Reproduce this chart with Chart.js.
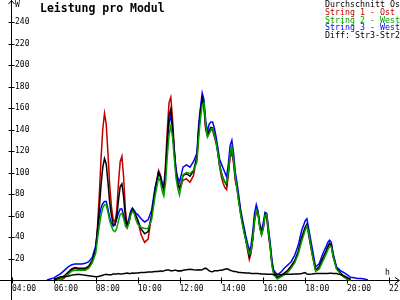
<!DOCTYPE html>
<html><head><meta charset="utf-8">
<script src="https://cdn.jsdelivr.net/npm/chart.js@4"></script>
<style>html,body{margin:0;padding:0;background:#fff;overflow:hidden}canvas{display:block}</style>
</head><body>
<canvas id="c" width="400" height="300"></canvas>
<script>
const title = 'Leistung pro Modul';
const times = [
'05:30','05:40','05:50','06:00','06:10','06:20','06:30','06:40','06:50','07:00',
'07:10','07:20','07:30','07:40','07:50','08:00','08:05','08:10','08:15','08:20',
'08:25','08:30','08:35','08:40','08:45','08:50','08:55','09:00','09:05','09:10',
'09:15','09:20','09:25','09:30','09:35','09:40','09:45','09:50','09:55','10:00',
'10:10','10:20','10:30','10:40','10:50','11:00','11:05','11:10','11:15','11:20',
'11:25','11:30','11:35','11:40','11:45','11:50','11:55','12:00','12:05','12:10',
'12:20','12:30','12:40','12:50','12:55','13:00','13:05','13:10','13:15','13:20',
'13:25','13:30','13:35','13:40','13:45','13:50','13:55','14:00','14:05','14:10',
'14:15','14:20','14:25','14:30','14:35','14:40','14:45','14:50','14:55','15:00',
'15:05','15:10','15:15','15:20','15:25','15:30','15:35','15:40','15:45','15:50',
'15:55','16:00','16:05','16:10','16:15','16:20','16:25','16:30','16:40','16:50',
'17:00','17:10','17:20','17:30','17:40','17:50','18:00','18:05','18:10','18:20',
'18:30','18:40','18:50','19:00','19:05','19:10','19:15','19:20','19:30','19:40',
'19:50','20:00','20:10','20:20','20:30','20:40','20:50','21:00'];

const durchschnitt = [
null,null,null,0,1,2,4,7,10,11.5,
11,11,11,13,18,29,46,66,88,104.5,
113,108,91,72,60,52,51,58,74,87,
89.5,77,58,50,54,62,66,63,60,56,
47.5,43,45,60,83,100,96,88.5,83.5,101.5,
130,153,159,143,119,99.5,90.5,85,90.5,97,
99,96.5,101.5,114.5,139,156.5,169,163,143,135,
139,142,141.5,135.5,129,119,107,100,94.5,91,
88.5,101,118,123,111.5,95,86,74,63,54,
46,38,30,22,27,40,57,65,62.5,50,
43,49,61,60,44,31,15,7,2.5,4,
6.5,9,13,18,26.5,39.5,49,52,44,25.5,
9.5,12,20,27,31,34,32.5,23,11,7,
4,2,0.5,null,null,null,null,null];

const string1 = [
null,null,null,null,null,0,2,6,9,11,
10,10,10,12,18,30,50,78,112,140,
155,145,118,88,68,56,54,64,90,110,
115,95,65,50,53,62,66,63,60,56,
42,35,38,60,84,102,98,90,85,108,
140,165,170,150,122,100,91,85,88,93,
94,91,97,115,140,158,169,160,140,134,
137,140,139,133,127,118,105,96,90,86,
84,98,114,119,108,92,85,73,63,53,
45,37,28,19,25,38,55,63,62,50,
42,48,60,58,42,30,15,7,2,3,
5,8,12,17,25,38,48,51,42,24,
9,12,19,26,30,34,32,22,11,7,
3,1,0,null,null,null,null,null];

const string2 = [
null,null,null,null,0,1,3,5,8,9,
9,9,9,11,16,25,38,50,60,67,
70,70,63,55,50,46,45,48,55,61,
62,57,50,48,53,60,64,62,56,52,
49,48,48,56,78,95,92,83,78,90,
115,135,143,133,113,95,85,79,88,98,
100,99,102,110,132,150,163,165,145,133,
136,140,141,135,128,118,106,99,94,91,
90,100,118,124,112,95,84,72,61,52,
44,37,30,24,26,38,55,65,62,48,
42,48,60,61,45,30,13,5,1,3,
5,7,11,16,24,36,46,50,44,24,
8,10,17,24,28,31,31,22,10,6,
3,0.5,0,null,null,null,null,null];

const string3 = [
null,0,1,2,4,6,9,12,14,15,
15,15,15.5,17,21,32,45,58,67,71,
73,73,66,58,53,50,52,57,62,66,
66,60,53,52,57,64,67,65,62,61,
57,54,56,65,86,100,97,91,86,100,
125,146,153,140,120,103,95,91,98,105,
107,105,110,118,145,160,174,168,148,138,
145,147,147,141,133,123,112,108,104,100,
96,108,125,130,118,100,90,78,66,57,
49,41,34,27,32,45,62,70,64,52,
46,53,63,62,48,34,18,9,5,7,
11,14,17,23,32,46,55,57,48,30,
12,15,24,31,35,37,35,25,12,9,
7,5,2.5,2,1.5,1.5,1,0];

const diff = [
null,null,null,0.5,2,3,3,3.5,4.5,5,
5.3,5,4.5,4,3.5,3,3,3.5,4,4.5,
5,5.3,5,5,5,5.5,5.5,5.5,6,5.5,
5.5,6,6,6.5,6,6,6.5,6.2,6.5,6.5,
7,7,7.5,7.5,8,8,8.5,8,8.5,9,
9.3,9.3,8.5,8.5,9,9,8.5,8.7,8.5,9,
9.5,10,9.5,9.3,9.5,9.3,9.5,10.5,11,10,
8.5,8,7.8,8.5,8.5,8.5,9,9,9.5,10,
10.5,10,9,8.5,8,8,7.5,7,7,6.8,
6.8,6.5,6.5,6.5,6,6,6,6,6,5.8,
5.5,5.5,5.5,5.3,5.3,5.3,5.3,5,5,5,
5.3,5.3,5.3,5.5,5.5,6,7,5.5,5.3,5.5,
6,6,6,6,6,6.2,6.2,6,6,5,
4,2.5,0.5,null,null,null,null,null];

const seriesNames = ['Durchschnitt Ost','String 1 - Ost','String 2 - West','String 3 - West','Diff: Str3-Str2'];
const seriesColors = ['#000000','#c00000','#00a000','#0000ff','#000000'];
const yTicks = [20,40,60,80,100,120,140,160,180,200,220,240];
const xTicks = ['04:00','06:00','08:00','10:00','12:00','14:00','16:00','18:00','20:00','22:00'];
const yUnit = 'W';
const xUnit = 'h';

function toH(s){const p=s.split(':');return +p[0]+(+p[1])/60;}
function pts(arr){return times.map((t,i)=>({x:toH(t),y:arr[i]}));}

const seriesData = [durchschnitt,string1,string2,string3,diff];
const datasets = seriesData.map((arr,i)=>({
  label: seriesNames[i], data: pts(arr), borderColor: seriesColors[i],
  backgroundColor: seriesColors[i], borderWidth: 1.5, pointRadius: 0,
  tension: 0, spanGaps: false, fill: false
}));
const order = [2,4,1,3,0];
datasets.forEach((d,i)=>{d.order = order[i];});

const MONO = '"DejaVu Sans Mono", "Liberation Mono", monospace';

const axesPlugin = {
  id: 'axesPlugin',
  beforeDatasetsDraw(chart){
    const ctx = chart.ctx, xs = chart.scales.x, ys = chart.scales.y;
    const x0 = Math.round(xs.getPixelForValue(4)) - 0.5;
    const y0 = Math.round(ys.getPixelForValue(0)) + 0.5;
    ctx.save();
    ctx.strokeStyle = '#000'; ctx.lineWidth = 1;
    ctx.beginPath();
    ctx.moveTo(x0, 300); ctx.lineTo(x0, 0);
    ctx.moveTo(x0-3, 4); ctx.lineTo(x0, 0.5); ctx.lineTo(x0+3, 4);
    ctx.moveTo(0, y0); ctx.lineTo(399, y0);
    ctx.moveTo(395, y0-3); ctx.lineTo(399.5, y0); ctx.lineTo(395, y0+3);
    yTicks.forEach(v=>{
      const y = Math.round(ys.getPixelForValue(v)) + 0.5;
      ctx.moveTo(x0-3, y); ctx.lineTo(x0+3, y);
    });
    xTicks.forEach(s=>{
      const x = Math.round(xs.getPixelForValue(toH(s))) + 0.5;
      ctx.moveTo(x, y0-3); ctx.lineTo(x, y0+3);
    });
    ctx.stroke();
    ctx.fillStyle = '#000';
    ctx.font = '8px ' + MONO;
    ctx.textAlign = 'left'; ctx.textBaseline = 'middle';
    yTicks.forEach(v=>{
      ctx.fillText(String(v), x0+3.5, ys.getPixelForValue(v));
    });
    ctx.textBaseline = 'alphabetic';
    xTicks.forEach(s=>{
      ctx.fillText(s, xs.getPixelForValue(toH(s)), y0+10.5);
    });
    ctx.fillText(yUnit, x0+3.5, 7);
    ctx.fillText(xUnit, 385, y0-6);
    ctx.font = 'bold 11.5px ' + MONO;
    ctx.fillText(title, 40, 11.5);
    ctx.font = '8.3px ' + MONO;
    chart.data.datasets.forEach((d,i)=>{
      ctx.fillStyle = d.borderColor;
      ctx.fillText(d.label, 325, 7 + i*7.75);
    });
    ctx.restore();
  }
};

new Chart(document.getElementById('c'), {
  type: 'line',
  data: { datasets },
  options: {
    responsive: false, animation: false, devicePixelRatio: 1,
    layout: { padding: 0 },
    scales: {
      x: { type: 'linear', min: 3.427, max: 22.53, display: false },
      y: { type: 'linear', min: -18.6, max: 260.47, display: false }
    },
    plugins: { legend: { display: false }, tooltip: { enabled: false }, title: { display: false } }
  },
  plugins: [axesPlugin]
});
</script>
</body></html>
